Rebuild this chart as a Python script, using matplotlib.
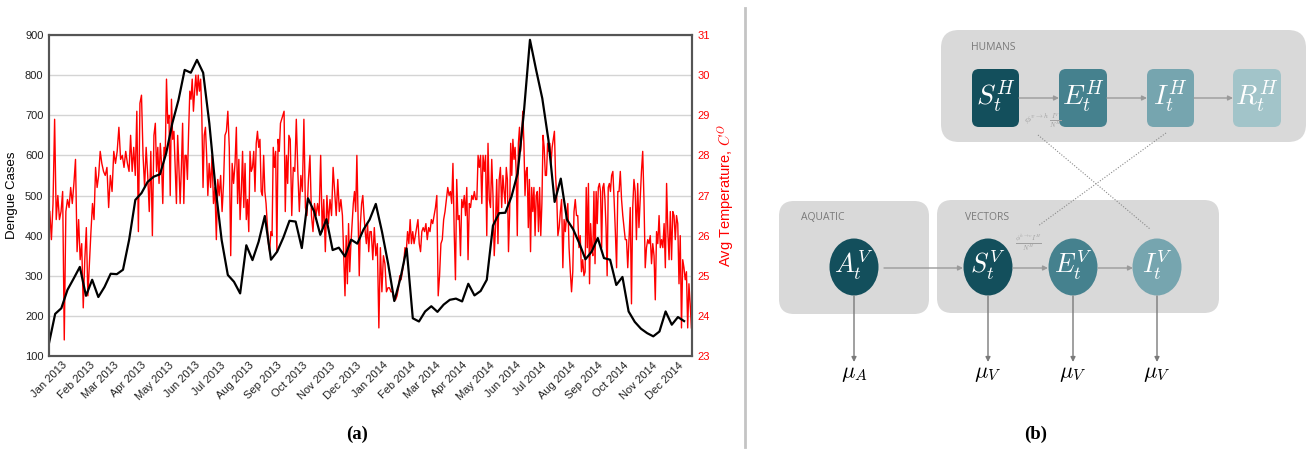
import numpy as np
import pandas as pd
import matplotlib
matplotlib.use("Agg")
import matplotlib.pyplot as plt
import matplotlib.dates as mdates
from matplotlib.patches import FancyBboxPatch, Ellipse

plt.rcParams['font.family'] = ['Liberation Sans', 'DejaVu Sans']
plt.rcParams['mathtext.fontset'] = 'cm'

# Weekly dengue cases, starting 2013-01-01
dengue_cases = [132, 205, 219, 265, 293, 322, 250, 290, 247, 272, 305, 304, 315, 390,
                489, 506, 534, 547, 553, 605, 680, 738, 813, 806, 838, 806, 680, 520,
                389, 302, 285, 256, 376, 339, 385, 449, 340, 360, 395, 437, 435, 369,
                493, 460, 402, 441, 364, 370, 348, 390, 380, 415, 440, 479, 410, 330,
                237, 294, 368, 194, 186, 211, 224, 210, 228, 240, 243, 236, 280, 251,
                262, 290, 425, 456, 457, 497, 555, 705, 888, 813, 742, 638, 484, 542,
                440, 416, 381, 341, 360, 394, 344, 340, 277, 297, 211, 185, 168, 157,
                149, 161, 211, 178, 197, 187]

# Average temperature (deg C), samples within each month
jan13 = [26.6, 25.9, 26.8, 28.9, 26.4, 27.0, 26.4, 26.6, 27.1, 23.4, 26.6, 26.9, 26.7, 27.2, 26.8, 27.3, 27.9]
feb13 = [25.6, 26.4, 25.4, 25.8, 24.2, 25.4, 26.2, 24.5, 25.3, 26.1, 26.8, 26.4, 27.7, 27.2, 27.5, 28.1]
mar13 = [27.8, 27.6, 27.5, 27.7, 26.7, 27.5, 27.1, 28.1, 27.8, 28.1, 28.7, 27.9, 28.0, 27.7, 28.1, 27.8]
apr13 = [27.6, 28.5, 27.6, 28.2, 27.5, 29.1, 26.1, 29.3, 29.5, 28.0, 27.2, 28.2, 27.5, 26.6, 28.1, 26.0, 28.5]
may13 = [28.8, 27.6, 28.2, 27.3, 28.3, 27.8, 26.8, 28.2, 28.0, 29.9, 28.8, 29.0, 27.0, 29.4, 28.4, 28.6,
         27.7, 26.8, 28.5, 27.7, 26.8, 27.7]
jun13 = [28.8, 26.8, 28.0, 28.0, 27.4, 28.6, 29.6, 29.4, 29.9, 29.1, 29.6, 30.0, 29.5, 30.0, 29.6, 29.9,
         29.0, 27.2, 28.5, 28.7, 28.0, 27.0]
jul13 = [27.8, 27.2, 28.0, 26.8, 27.2, 25.9, 27.4, 27.0, 27.5, 26.6, 27.3, 28.5, 28.6, 29.1, 28.2, 25.5,
         27.8, 27.3, 27.8]
aug13 = [28.7, 26.8, 27.9, 26.4, 27.1, 28.1, 26.7, 27.8, 26.4, 26.9, 26.1, 28.1, 27.6, 27.7, 28.1, 27.1,
         28.3, 28.6, 28.2, 28.4, 27.1, 27.0]
sep13 = [28.0, 27.1, 26.8, 26.3, 25.8, 25.6, 26.1, 26.0, 28.2, 27.7, 28.1, 25.6, 28.4, 28.1, 28.8, 28.9,
         29.0, 29.1, 26.6, 28.0, 27.3, 28.5]
oct13 = [28.4, 26.5, 27.7, 27.6, 28.9, 27.6, 26.6, 27.5, 27.1, 28.9, 26.7, 26.5, 27.4, 28.0, 26.5, 26.1,
         26.8, 26.5]
nov13 = [26.8, 26.5, 28.0, 26.1, 26.9, 25.6, 27.0, 26.3, 26.9, 26.5, 27.7, 27.1, 26.5, 27.4, 26.6, 26.9, 26.5]
dec13 = [25.4, 24.5, 26.0, 24.8, 26.3, 25.1, 25.8, 26.3, 26.8, 27.1, 26.6, 28.0, 26.5, 25.0, 26.3, 26.8,
         27.0, 26.5, 26.1, 25.8, 26.3, 25.6, 26.1]
jan14 = [26.1, 25.4, 26.2, 25.5, 25.8, 23.7, 25.7, 24.6, 25.5, 25.3, 24.6, 24.7, 24.7, 24.6, 24.6, 24.4,
         24.4, 24.5]
feb14 = [24.7, 25.0, 24.9, 25.1, 25.3, 25.7, 25.6, 26.1, 25.8, 26.4, 25.8, 26.1, 25.8, 26.0, 26.2, 26.4,
         25.8, 25.6, 26.1]
mar14 = [26.2, 26.1, 26.3, 25.9, 26.2, 26.1, 26.4, 26.3, 26.5, 26.7, 27.0, 24.5, 25.0, 25.8, 25.9, 26.4,
         26.6, 26.9, 27.2, 27.0]
apr14 = [27.1, 26.8, 27.8, 26.1, 24.9, 27.4, 26.4, 26.5, 25.5, 26.9, 26.7, 27.0, 26.5, 27.2, 25.4, 26.8,
         26.7, 27.0, 26.9, 27.1, 26.9]
may14 = [26.9, 28.0, 27.7, 28.0, 26.8, 28.0, 27.6, 28.0, 26.0, 28.3, 26.9, 26.7, 27.9, 27.0, 25.5, 26.2,
         27.4, 25.8, 27.4, 27.7, 26.7, 27.5]
jun14 = [27.1, 26.8, 27.7, 27.4, 25.6, 26.5, 28.3, 27.5, 28.4, 27.9, 28.2, 27.6, 26.0, 28.3, 28.7, 28.1,
         28.5, 29.1, 28.3, 27.0, 27.6, 27.7, 26.2, 27.4]
jul14 = [25.6, 27.2, 26.6, 27.2, 26.0, 27.0, 27.1, 26.1, 27.2, 26.0, 26.8, 28.5, 28.2, 27.5, 27.5, 28.3,
         28.1, 28.3, 27.8, 28.2, 28.4, 28.6, 27.5, 27.0]
aug14 = [26.0, 26.2, 26.6, 26.9, 25.2, 26.4, 26.1, 26.5, 26.8, 25.7, 25.1, 24.6, 25.1, 26.6, 26.9, 26.5,
         26.5, 25.7, 26.0, 25.1, 25.4, 25.0]
sep14 = [25.1, 27.2, 25.7, 27.3, 24.8, 26.3, 25.7, 25.5, 27.1, 25.3, 27.1, 26.3, 27.2, 27.3, 27.1, 25.7,
         27.2, 27.3, 26.9, 26.2, 25.0, 27.2, 27.3, 27.1]
oct14 = [27.5, 27.6, 26.9, 26.1, 25.2, 27.1, 27.1, 27.6, 26.9, 26.5, 26.2, 25.9, 25.9, 25.2, 25.9, 26.7,
         24.3, 26.7, 27.4, 27.1, 25.9, 27.3]
nov14 = [26.2, 26.9, 27.6, 28.1, 26.9, 25.2, 25.7, 25.9, 25.8, 26.0, 25.3, 25.8, 25.5, 24.4, 26.1, 25.8,
         26.5, 25.7, 25.9, 25.7, 26.3]
dec14 = [25.2, 27.3, 26.1, 25.4, 26.6, 25.4, 26.6, 26.5, 25.9, 26.5, 26.3, 24.8, 26.0, 23.7, 25.4, 25.2,
         24.9, 25.1, 23.7, 24.8, 24.3, 23.7]

monthly_temps = [jan13, feb13, mar13, apr13, may13, jun13, jul13, aug13, sep13, oct13, nov13, dec13,
                 jan14, feb14, mar14, apr14, may14, jun14, jul14, aug14, sep14, oct14, nov14, dec14]

# ---- time axis for both series ----
week_dates = pd.date_range('2013-01-01', periods=len(dengue_cases), freq='7D')
month_starts = pd.date_range('2013-01-01', periods=len(monthly_temps) + 1, freq='MS')
temp_dates, temp_vals = [], []
for k, vals in enumerate(monthly_temps):
    start, end = month_starts[k], month_starts[k + 1]
    span = end - start
    n = len(vals)
    for i, v in enumerate(vals):
        temp_dates.append(start + span * ((i + 0.5) / n))
        temp_vals.append(v)

W, H = 1307, 451
fig = plt.figure(figsize=(W / 100, H / 100), dpi=100)
fig.patch.set_facecolor('white')

# ---- panel (a): dengue cases vs temperature ----
ax = fig.add_axes([49 / W, (H - 356) / H, 643 / W, 321 / H])
ax2 = ax.twinx()
ax2.set_zorder(1)
ax.set_zorder(2)
ax.patch.set_visible(False)
ax2.patch.set_facecolor('white')

ax2.plot(temp_dates, temp_vals, color='#ff0000', lw=1.0)
ax.plot(week_dates, dengue_cases, color='black', lw=1.6)

xmin, xmax = pd.Timestamp('2013-01-01'), pd.Timestamp('2014-12-31 23:00')
ax.set_xlim(xmin, xmax)
ax.set_ylim(100, 900)
ax.set_yticks(range(100, 901, 100))
ax2.set_ylim(23, 31)
ax2.set_yticks(range(23, 32))

month_ticks = month_starts[:-1]
ax.set_xticks(month_ticks)
ax.xaxis.set_major_formatter(mdates.DateFormatter('%b %Y'))
for lbl in ax.get_xticklabels():
    lbl.set_rotation(45)
    lbl.set_ha('center')
ax.tick_params(axis='x', length=0, pad=3, labelsize=8, labelcolor='#222222')
ax.tick_params(axis='y', length=0, pad=4, labelsize=8, labelcolor='#222222')
ax2.tick_params(axis='y', length=0, pad=4, labelsize=8, labelcolor='#ff0000')

ax.grid(False)
ax2.set_xticks(month_ticks)
ax2.grid(True, which='major', axis='both', color='#d4d4d4', lw=1.0)

for a in (ax, ax2):
    for s in a.spines.values():
        s.set_color('#555555')
        s.set_linewidth(1.5)

ax.set_ylabel('Dengue Cases', fontsize=9.5, labelpad=5, color='black')
ax2.set_ylabel('Avg Temperature, $C^O$', fontsize=10.5, labelpad=4, color='#ff0000')

# ---- overlay in pixel coordinates for panel (b) and captions ----
ov = fig.add_axes([0, 0, 1, 1], zorder=5)
ov.set_xlim(0, W)
ov.set_ylim(H, 0)
ov.axis('off')
ov.patch.set_visible(False)

ov.plot([745, 745], [8, 447], color='#c4c4c4', lw=2)

cap_font = dict(family=['Liberation Serif'], fontweight='bold', fontsize=13.5, ha='center', va='center')
ov.text(357, 434, '(a)', **cap_font)
ov.text(1036, 434, '(b)', **cap_font)

box_grey = '#d9d9d9'
label_grey = '#7a7a7a'
arrow_grey = '#9a9a9a'
dark_teal, mid_teal, light_teal, pale_teal = '#134f5c', '#45818e', '#76a5af', '#a2c4c9'


def group_box(x0, y0, x1, y1, r=16):
    ov.add_patch(FancyBboxPatch((x0, y0), x1 - x0, y1 - y0,
                                boxstyle=f"round,pad=0,rounding_size={r}",
                                fc=box_grey, ec='none'))


def arrow(x0, y0, x1, y1, color=arrow_grey, lw=1.0):
    ov.annotate('', xy=(x1, y1), xytext=(x0, y0),
                arrowprops=dict(arrowstyle='-|>', color=color, lw=lw,
                                mutation_scale=7, shrinkA=0, shrinkB=0))


group_box(941, 30, 1306, 142, r=18)
group_box(779, 201, 929, 314, r=15)
group_box(937, 200, 1219, 313, r=15)

small_caps = dict(family=['Open Sans'], fontsize=7.5, color=label_grey, ha='left', va='center')
ov.text(971, 47, 'HUMANS', **small_caps)
ov.text(801, 217, 'AQUATIC', **small_caps)
ov.text(965, 217, 'VECTORS', **small_caps)

# human compartments
human_nodes = [(972, 1019, dark_teal, r'$S_t^H$'),
               (1059, 1107, mid_teal, r'$E_t^H$'),
               (1147, 1194, light_teal, r'$I_t^H$'),
               (1233, 1281, pale_teal, r'$R_t^H$')]
for x0, x1, col, lab in human_nodes:
    ov.add_patch(FancyBboxPatch((x0, 69), x1 - x0, 58,
                                boxstyle="round,pad=0,rounding_size=7", fc=col, ec='none'))
    ov.text((x0 + x1) / 2, 97, lab, color='white', fontsize=20, ha='center', va='center')

for xa, xb in [(1019, 1059), (1107, 1147), (1194, 1233)]:
    arrow(xa, 98, xb, 98)

ov.text(1043, 121, r'$\phi^{v\to h}\,\frac{I^V}{N^H}$', fontsize=7, color='#a0a0a0',
        ha='center', va='center')

# vector compartments
vector_nodes = [(854, dark_teal, r'$A_t^V$', r'$\mu_A$'),
                (988, dark_teal, r'$S_t^V$', r'$\mu_V$'),
                (1073, mid_teal, r'$E_t^V$', r'$\mu_V$'),
                (1157, light_teal, r'$I_t^V$', r'$\mu_V$')]
for cx, col, lab, mu in vector_nodes:
    ov.add_patch(Ellipse((cx, 267), 49, 57, fc=col, ec='none'))
    ov.text(cx, 265, lab, color='white', fontsize=19, ha='center', va='center')
    arrow(cx, 296, cx, 362, color='#7a7a7a')
    ov.text(cx, 373, mu, color='black', fontsize=16, ha='center', va='center')

for xa, xb in [(884, 963), (1013, 1048), (1098, 1133)]:
    arrow(xa, 268, xb, 268)

ov.text(1028, 243, r'$\frac{\phi^{h\to v}I^H}{N^H}$', fontsize=7, color='#a0a0a0',
        ha='center', va='center')

# cross-infection links
ov.plot([1038, 1150], [135, 229], color='#8a8a8a', lw=0.8, ls=(0, (1, 1.5)))
ov.plot([1166, 1038], [133, 226], color='#8a8a8a', lw=0.8, ls=(0, (1, 1.5)))

fig.savefig('out.png', dpi=100)
